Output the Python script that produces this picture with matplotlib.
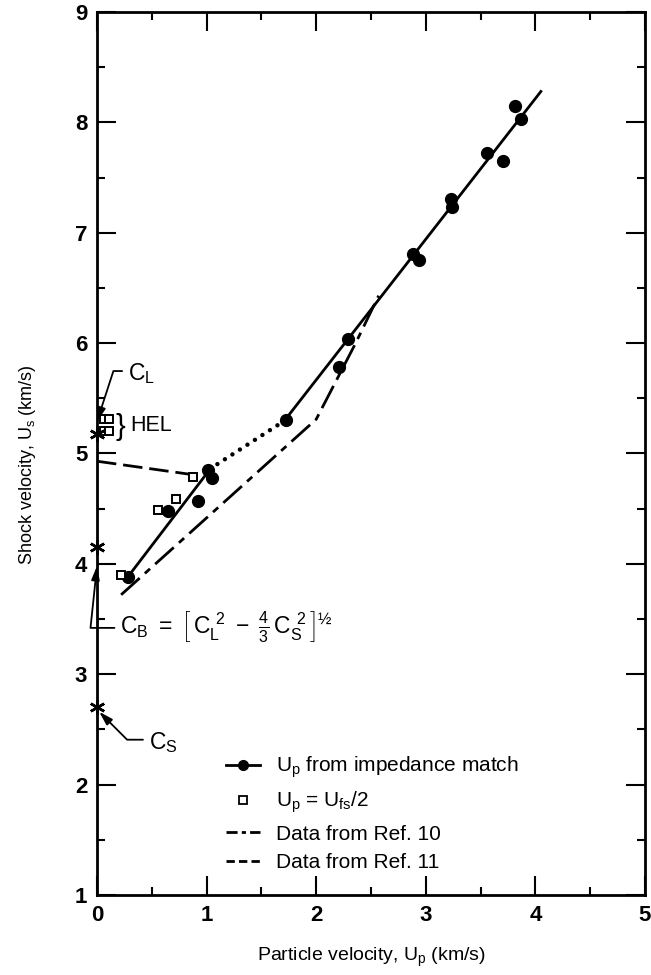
import matplotlib
matplotlib.use("Agg")
import matplotlib.pyplot as plt
from matplotlib.lines import Line2D
from matplotlib.ticker import MultipleLocator

plt.rcParams['font.family'] = ['Liberation Sans', 'DejaVu Sans']
plt.rcParams['mathtext.fontset'] = 'custom'
plt.rcParams['mathtext.rm'] = 'Liberation Sans'
plt.rcParams['mathtext.it'] = 'Liberation Sans'
plt.rcParams['mathtext.bf'] = 'Liberation Sans:bold'

# Up from impedance match (solid circles)
imp_up = [0.28, 0.65, 0.92, 1.01, 1.05, 1.72, 2.21, 2.29, 2.88, 2.94, 3.23, 3.24, 3.56, 3.70, 3.81, 3.87]
imp_us = [3.88, 4.48, 4.57, 4.85, 4.78, 5.30, 5.78, 6.04, 6.81, 6.75, 7.31, 7.23, 7.72, 7.65, 8.15, 8.03]

# Up = Ufs/2 (open squares), the four near zero are the HEL points
fs_up = [0.22, 0.56, 0.72, 0.875, 0.06, 0.11, 0.06, 0.11]
fs_us = [3.90, 4.49, 4.59, 4.79, 5.31, 5.31, 5.20, 5.20]

# fitted Us-Up line, low part / dotted transition / high part
fit_low_up = [0.28, 1.01]
fit_low_us = [3.88, 4.83]
fit_mid_up = [1.03, 1.70]
fit_mid_us = [4.86, 5.29]
fit_high_up = [1.72, 4.05]
fit_high_us = [5.31, 8.28]

# Ref. 10 (dash-dot)
ref10_up = [0.22, 2.00, 2.36, 2.57]
ref10_us = [3.72, 5.31, 6.00, 6.43]

# Ref. 11 (dashed)
ref11_up = [0.00, 0.86]
ref11_us = [4.93, 4.81]

# sound speeds at Up = 0
c_names = ['C_L', 'C_B', 'C_S']
c_vals = [5.18, 4.15, 2.70]

fig = plt.figure(figsize=(6.51, 9.75), dpi=100)
ax = fig.add_axes([97 / 651, 1 - 895 / 975, 548 / 651, 883 / 975])

ax.plot(fit_low_up, fit_low_us, '-', color='black', lw=2.0)
ax.plot(fit_mid_up, fit_mid_us, color='black', lw=3.2,
        linestyle=(0, (0.01, 2.0)), dash_capstyle='round')
ax.plot(fit_high_up, fit_high_us, '-', color='black', lw=2.0)
ax.plot(ref10_up, ref10_us, color='black', lw=2.0,
        linestyle=(0, (9, 2.5, 2.5, 2.5)))
ax.plot(ref11_up, ref11_us, color='black', lw=2.0,
        linestyle=(0, (7, 2.5)))

ax.plot(imp_up, imp_us, 'o', color='black', ms=8.5, zorder=4)
ax.plot(fs_up, fs_us, 's', mfc='white', mec='black', ms=6.3, mew=1.4, zorder=4)

ax.plot([0.0] * len(c_vals), c_vals, linestyle='none', marker=(6, 2, 0),
        color='black', ms=11, mew=1.8, clip_on=False, zorder=5)

# labels for the sound speeds
arrow = dict(arrowstyle='-|>,head_length=0.5,head_width=0.15', color='black',
             lw=1.3, shrinkA=2, shrinkB=0)
ax.annotate(r'$C_L$', xy=(0.0, 5.29), xytext=(0.28, 5.72), fontsize=16.5,
            ha='left', va='center',
            arrowprops=dict(arrow, connectionstyle='angle,angleA=0,angleB=72,rad=0',
                            relpos=(0, 0.62)))
ax.annotate(r'$C_B\ =\ \left[\,C_L^{\ 2}\ -\ \frac{4}{3}\,C_S^{\ 2}\,\right]^{½}$',
            xy=(0.0, 3.98), xytext=(0.21, 3.42), fontsize=16.5, ha='left', va='center',
            arrowprops=dict(arrow, connectionstyle='angle,angleA=0,angleB=84,rad=0',
                            relpos=(0, 0.5)))
ax.annotate(r'$C_S$', xy=(0.02, 2.66), xytext=(0.47, 2.38), fontsize=16.5,
            ha='left', va='center',
            arrowprops=dict(arrow, connectionstyle='angle,angleA=0,angleB=-45,rad=0',
                            relpos=(0, 0.62)))
ax.text(0.17, 5.24, '}', fontsize=21, ha='left', va='center')
ax.text(0.30, 5.25, 'HEL', fontsize=15.5, ha='left', va='center')

handles = [
    Line2D([], [], color='black', lw=2.0, marker='o', ms=7),
    Line2D([], [], color='black', lw=0, marker='s', mfc='white', ms=5.5, mew=1.3),
    Line2D([], [], color='black', lw=2.0, linestyle=(0, (4, 1.5, 1.5, 1.5))),
    Line2D([], [], color='black', lw=2.0, linestyle=(0, (3, 1.5))),
]
labels = [r'$U_p$ from impedance match', r'$U_p$ = $U_{fs}/2$',
          'Data from Ref. 10', 'Data from Ref. 11']
ax.legend(handles, labels, loc='upper left', bbox_to_anchor=(1.18, 2.27),
          bbox_transform=ax.transData, frameon=False, fontsize=15,
          handlelength=1.6, handletextpad=0.8, labelspacing=0.45,
          borderpad=0, borderaxespad=0)

ax.set_xlim(0, 5)
ax.set_ylim(1, 9)
ax.xaxis.set_major_locator(MultipleLocator(1))
ax.xaxis.set_minor_locator(MultipleLocator(0.5))
ax.yaxis.set_major_locator(MultipleLocator(1))
ax.yaxis.set_minor_locator(MultipleLocator(0.5))
ax.tick_params(which='both', direction='in', top=True, right=True, width=1.5)
ax.tick_params(which='major', length=14, labelsize=16, pad=7)
ax.tick_params(which='minor', length=6)
for lab in ax.get_xticklabels() + ax.get_yticklabels():
    lab.set_fontweight('bold')
for sp in ax.spines.values():
    sp.set_linewidth(2.0)

ax.set_xlabel(r'Particle velocity, $U_p$ (km/s)', fontsize=14)
ax.xaxis.set_label_coords(0.5, -0.058)
ax.set_ylabel(r'Shock velocity, $U_s$ (km/s)', fontsize=13)
ax.yaxis.set_label_coords(-0.108, 0.487)

fig.savefig('out.png', dpi=100)
